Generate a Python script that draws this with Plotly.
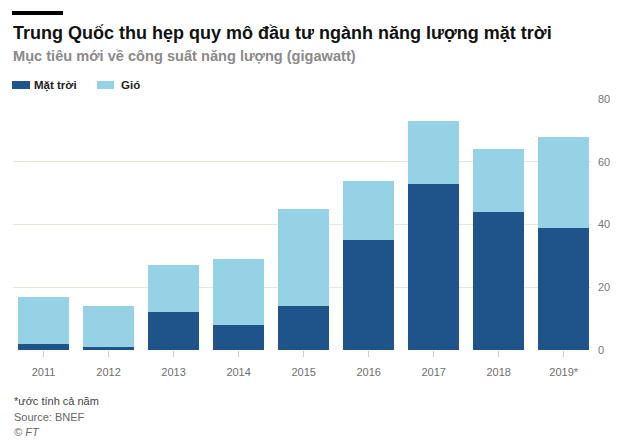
import plotly.graph_objects as go

years = ["2011", "2012", "2013", "2014", "2015", "2016", "2017", "2018", "2019*"]
solar = [2, 1, 12, 8, 14, 35, 53, 44, 39]
wind = [15, 13, 15, 21, 31, 19, 20, 20, 29]
y_ticks = [0, 20, 40, 60, 80]

SOLAR_C = "#1f548a"
WIND_C = "#95d2e6"
GRID_C = "#ebe5de"
FONT = "Liberation Sans"

fig = go.Figure()
fig.add_trace(go.Bar(x=years, y=solar, name="Mặt trời", marker=dict(color=SOLAR_C, line=dict(width=0)),
                     width=0.785))
fig.add_trace(go.Bar(x=years, y=wind, name="Gió", marker=dict(color=WIND_C, line=dict(width=0)),
                     width=0.785))

fig.update_layout(
    barmode="stack",
    width=630, height=442,
    margin=dict(l=13, r=39, t=99, b=92),
    plot_bgcolor="white", paper_bgcolor="white",
    showlegend=False,
    font=dict(family=FONT, color="#777777", size=11),
    xaxis=dict(range=[-0.47, 8.42], showgrid=False, ticks="outside", ticklen=6, tickcolor="#cfcfcf",
               tickfont=dict(size=11, color="#6e6e6e"), showline=False, zeroline=False,
               ticklabelstandoff=6),
    yaxis=dict(range=[0, 80], side="right", tickvals=y_ticks, gridcolor=GRID_C, gridwidth=1,
               zeroline=False, showline=False, tickfont=dict(size=11, color="#777777"),
               ticklabelstandoff=6),
)


def px_x(px):
    return (px - 13) / 578


def px_y(py):
    return (350 - py) / 251


# top black bar
fig.add_shape(type="rect", xref="paper", yref="paper", x0=px_x(12), x1=px_x(63),
              y0=px_y(15), y1=px_y(11), fillcolor="black", line=dict(width=0))

# title / subtitle
fig.add_annotation(text="<b>Trung Quốc thu hẹp quy mô đầu tư ngành năng lượng mặt trời</b>",
                   xref="paper", yref="paper", x=px_x(11), y=px_y(33), xanchor="left", yanchor="middle",
                   showarrow=False, font=dict(family=FONT, size=18, color="#111111"))
fig.add_annotation(text="<b>Mục tiêu mới về công suất năng lượng (gigawatt)</b>",
                   xref="paper", yref="paper", x=px_x(11), y=px_y(56), xanchor="left", yanchor="middle",
                   showarrow=False, font=dict(family=FONT, size=14.6, color="#8a8a8a"))

# legend
fig.add_shape(type="rect", xref="paper", yref="paper", x0=px_x(12), x1=px_x(30), y0=px_y(89), y1=px_y(81),
              fillcolor=SOLAR_C, line=dict(width=0))
fig.add_annotation(text="<b>Mặt trời</b>", xref="paper", yref="paper", x=px_x(32), y=px_y(85),
                   xanchor="left", yanchor="middle", showarrow=False,
                   font=dict(family=FONT, size=11.5, color="#222222"))
fig.add_shape(type="rect", xref="paper", yref="paper", x0=px_x(97), x1=px_x(114), y0=px_y(89), y1=px_y(81),
              fillcolor=WIND_C, line=dict(width=0))
fig.add_annotation(text="<b>Gió</b>", xref="paper", yref="paper", x=px_x(119), y=px_y(85),
                   xanchor="left", yanchor="middle", showarrow=False,
                   font=dict(family=FONT, size=11.5, color="#222222"))

# footer
fig.add_annotation(text="*ước tính cả năm", xref="paper", yref="paper", x=px_x(12), y=px_y(401),
                   xanchor="left", yanchor="middle", showarrow=False,
                   font=dict(family=FONT, size=11, color="#444444"))
fig.add_annotation(text="Source: BNEF", xref="paper", yref="paper", x=px_x(12), y=px_y(417),
                   xanchor="left", yanchor="middle", showarrow=False,
                   font=dict(family=FONT, size=11, color="#666666"))
fig.add_annotation(text="<i>© FT</i>", xref="paper", yref="paper", x=px_x(12), y=px_y(432),
                   xanchor="left", yanchor="middle", showarrow=False,
                   font=dict(family=FONT, size=11, color="#666666"))

fig.write_html("out.html", config={"displayModeBar": False},
               post_script="document.body.style.margin='0';")
